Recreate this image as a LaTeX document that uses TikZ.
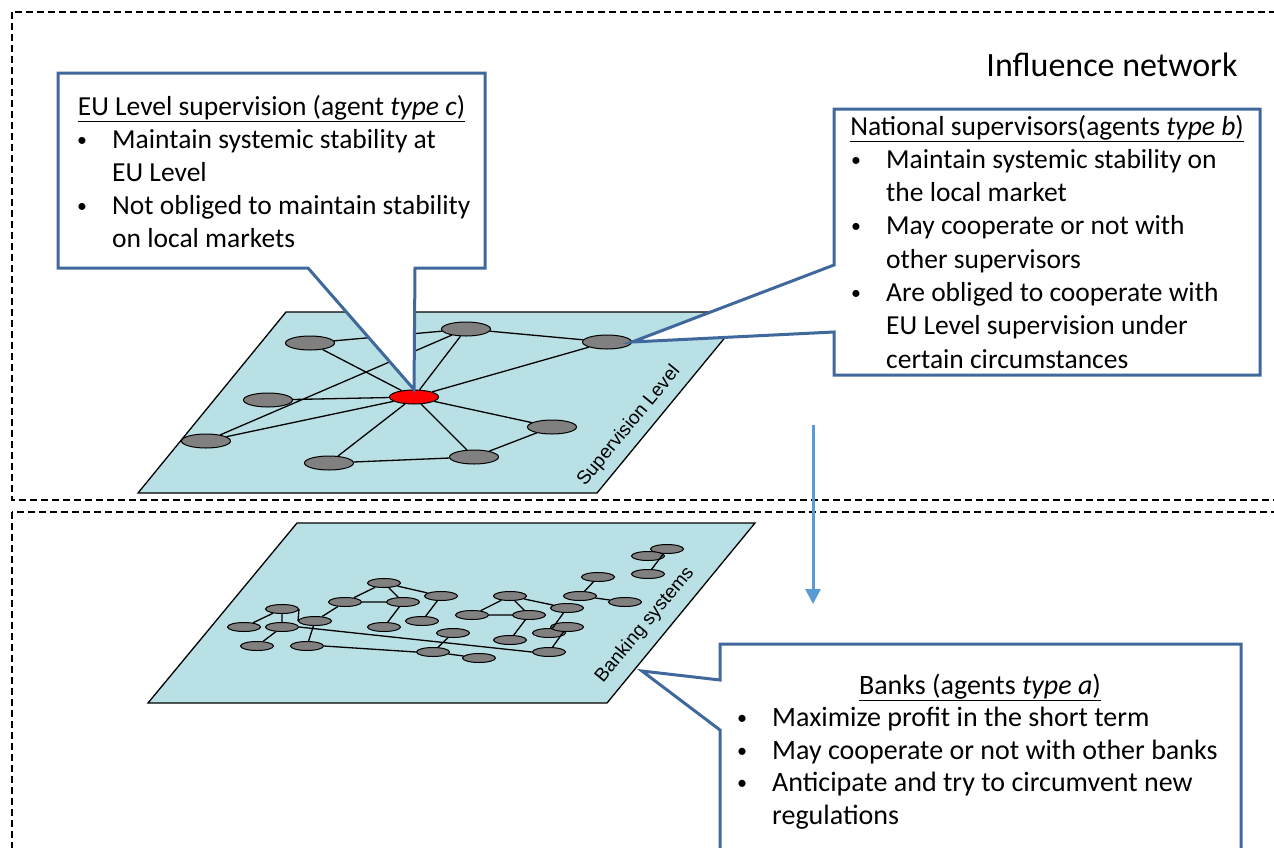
\documentclass[tikz,border=0pt]{standalone}
\usepackage{graphicx}
\usepackage{fontspec}
\setmainfont{Carlito}
\newfontfamily\arialfont{Liberation Sans}
\usetikzlibrary{arrows.meta,shapes.geometric}

\definecolor{planecol}{RGB}{185,224,228}
\definecolor{nodegray}{RGB}{128,128,128}
\definecolor{callblue}{RGB}{64,104,156}
\definecolor{arrowblue}{RGB}{91,155,213}

\newcommand{\bul}{\makebox[35pt][l]{\raisebox{2pt}{\scalebox{0.72}{\textbullet}}}}
\newcommand{\ind}{\hspace*{35pt}}
\newcommand{\titleline}[1]{\setbox0\hbox{#1}\rlap{\raisebox{-7pt}{\rule{\wd0}{1.5pt}}}\box0}

\begin{document}
\begin{tikzpicture}[
  x=1pt, y=-1pt,
  zone/.style={draw, line width=1.4pt, dash pattern=on 7pt off 4pt},
  plane/.style={draw, fill=planecol, line width=1.3pt},
  sup/.style={ellipse, draw, fill=nodegray, line width=1pt, minimum width=49pt, minimum height=14pt, inner sep=0pt},
  eunode/.style={sup, fill=red},
  bank/.style={sup, minimum width=33pt, minimum height=9pt},
  link/.style={line width=1.3pt},
  bubble/.style={draw=callblue, fill=white, line width=3pt},
  title/.style={font=\fontsize{27.5}{33}\selectfont, inner sep=0pt, anchor=base},
  body/.style={font=\fontsize{27.5}{33}\selectfont, align=left, inner sep=0pt, anchor=base west},
  planelabel/.style={font=\arialfont\fontsize{19}{21}\selectfont, rotate=50.5, inner sep=0pt},
  flow/.style={draw=arrowblue, line width=3pt, -{Triangle[length=15pt,width=15pt]}}
]
\path[use as bounding box, clip] (0,0) rectangle (1274,847);

% the two levels
\draw[zone] (12,12) rectangle (1300,500);
\draw[zone] (12,512) rectangle (1300,880);
\node[font=\fontsize{34}{40}\selectfont, anchor=base, inner sep=0pt] (infl) at (1112,76) {Influence network};

\draw[plane] (286,312) -- (746,312) -- (597,493) -- (138,493) -- cycle;
\draw[plane] (297,523) -- (755,523) -- (607,703) -- (148,703) -- cycle;
\node[planelabel] (suplabel) at (629,426) {Supervision Level};
\node[planelabel] (banklabel) at (645,625) {Banking systems};

% supervisors
\node[sup] (s1) at (310,343) {};
\node[sup] (s2) at (466,329) {};
\node[sup] (s3) at (607,342) {};
\node[sup] (s4) at (268,400) {};
\node[eunode] (eu) at (414,397) {};
\node[sup] (s6) at (206,441) {};
\node[sup] (s7) at (552,427) {};
\node[sup] (s8) at (329,463) {};
\node[sup] (s9) at (474,457) {};
\draw[link] (s1) -- (s2) (s2) -- (s3) (s1) -- (eu) (s2) -- (eu) (s6) -- (s2)
  (s4) -- (eu) (s6) -- (eu) (eu) -- (s3) (eu) -- (s7) (eu) -- (s9) (eu) -- (s8)
  (s8) -- (s9) (s9) -- (s7);

% banks
\node[bank] (b1) at (667,549) {};
\node[bank] (b2) at (648,556) {};
\node[bank] (b3) at (648,574) {};
\node[bank] (b4) at (598,577) {};
\node[bank] (b5) at (580,596) {};
\node[bank] (b6) at (625,602) {};
\node[bank] (b7) at (510,596) {};
\node[bank] (b8) at (567,608) {};
\node[bank] (b9) at (472,615) {};
\node[bank] (b10) at (529,615) {};
\node[bank] (b12) at (549,633) {};
\node[bank] (b11) at (567,627) {};
\node[bank] (b13) at (510,640) {};
\node[bank] (b14) at (549,652) {};
\node[bank] (b15) at (384,583) {};
\node[bank] (b16) at (345,602) {};
\node[bank] (b17) at (403,602) {};
\node[bank] (b18) at (441,596) {};
\node[bank] (b19) at (422,621) {};
\node[bank] (b20) at (384,627) {};
\node[bank] (b21) at (282,609) {};
\node[bank] (b22) at (244,627) {};
\node[bank] (b23) at (282,627) {};
\node[bank] (b24) at (315,621) {};
\node[bank] (b25) at (257,646) {};
\node[bank] (b26) at (307,646) {};
\node[bank] (b27) at (453,633) {};
\node[bank] (b28) at (433,652) {};
\node[bank] (b29) at (479,658) {};
\draw[link] (b21) -- (b22) (b21) -- (b23) (b21.east) -- (b24.west) (b23) -- (b25)
  (b24) -- (b26) (b24) -- (b16) (b16) -- (b17) (b16) -- (b15) (b15) -- (b17)
  (b15) -- (b18) (b17) -- (b20) (b18) -- (b19) (b26.east) -- (b28.west)
  (b27) -- (b28) (b28) -- (b29) (b23.east) -- (b14.west);
\draw[link] (b9) -- (b7) (b9) -- (b10) (b7) -- (b10) (b7) -- (b8) (b10) -- (b13)
  (b8) -- (b12) (b11) -- (b14) (b5) -- (b4) (b5) -- (b6) (b3) -- (b1);

% callouts
\draw[bubble] (58,73) -- (485,73) -- (485,268) -- (415,268) -- (eu.north)
  -- (308,268) -- (58,268) -- cycle;
\node[title] (eutitle) at (271.5,115) {\titleline{EU Level supervision (agent \textit{type c})}};
\node[body] (eubody) at (77,247)
  {\bul Maintain systemic stability at\\
   \ind EU Level\\
   \bul Not obliged to maintain stability\\
   \ind on local markets};

\draw[bubble] (834,109) -- (1260,109) -- (1260,375) -- (834,375) -- (834,332)
  -- (s3.east) -- (834,265) -- cycle;
\node[title] (nattitle) at (1047,135) {\titleline{National supervisors(agents \textit{type b})}};
\node[body, font=\fontsize{27.5}{33.3}\selectfont] (natbody) at (851,368)
  {\bul Maintain systemic stability on\\
   \ind the local market\\
   \bul May cooperate or not with\\
   \ind other supervisors\\
   \bul Are obliged to cooperate with\\
   \ind EU Level supervision under\\
   \ind certain circumstances};

\coordinate (banktip) at (642,671);
\draw[bubble] (720,644) -- (1241,644) -- (1241,880) -- (720,880) -- (720,730)
  -- (banktip) -- (720,680) -- cycle;
\node[title, font=\fontsize{28}{33}\selectfont] (banktitle) at (980,694) {\titleline{Banks (agents \textit{type a})}};
\node[body, font=\fontsize{28}{32.5}\selectfont] (bankbody) at (737,824)
  {\bul Maximize profit in the short term\\
   \bul May cooperate or not with other banks\\
   \bul Anticipate and try to circumvent new\\
   \ind regulations};

% influence
\coordinate (arrtop) at (813,425);
\coordinate (arrtip) at (813,604);
\draw[flow] (arrtop) -- (arrtip);
\end{tikzpicture}
\end{document}
